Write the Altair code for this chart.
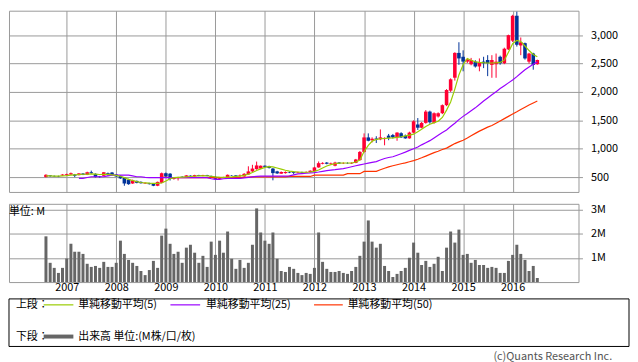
import altair as alt
import pandas as pd

# ---------------- data ----------------
start_month = "2006-08-01"   # first candle (monthly candles, Aug 2006 .. Jul 2016)

opens = [500,530,520,518,528,534,545,545,534,562,
         540,585,557,511,523,568,580,545,523,489,
         455,387,432,415,387,392,387,347,400,568,
         560,470,485,505,495,525,510,535,520,535,
         520,505,470,495,495,530,530,520,511,545,
         600,640,650,700,690,650,600,560,570,590,
         590,575,590,580,590,605,670,735,755,735,
         700,756,740,745,740,750,800,943,1199,1150,
         1180,1165,1170,1230,1240,1199,1273,1228,1182,1284,
         1427,1370,1455,1654,1455,1568,1625,1767,2023,2251,
         2688,2620,2535,2489,2535,2449,2535,2563,2477,2489,
         2620,2506,2750,2904,3342,2819,2860,2534,2677,2489]
highs = [550,535,528,525,550,560,580,555,570,570,
         595,614,565,520,590,580,590,555,530,495,
         470,455,440,425,405,400,395,420,580,580,
         570,500,505,515,535,530,540,540,540,540,
         525,515,500,505,545,535,535,545,570,690,
         716,773,705,705,700,660,610,600,600,600,
         605,595,595,600,620,680,775,760,765,755,
         770,765,760,760,760,820,960,1270,1270,1200,
         1220,1340,1200,1260,1260,1290,1290,1250,1300,1500,
         1540,1470,1680,1670,1640,1640,1780,2050,2240,2700,
         2876,2734,2590,2600,2560,2591,2620,2648,2648,2677,
         2640,2780,3010,3360,3415,2960,2870,2690,2690,2570]
lows = [495,505,505,500,520,528,540,500,528,535,
        535,560,495,490,515,525,525,505,470,347,
        365,380,390,385,380,370,340,340,390,495,
        440,455,440,490,490,510,505,515,515,515,
        495,455,465,485,490,520,515,505,505,540,
        590,630,640,670,650,443,555,555,560,570,
        550,570,570,575,585,600,665,725,725,725,
        690,730,730,735,730,745,790,930,1130,1110,
        1100,1150,1060,1150,1180,1140,1190,1175,1175,1270,
        1330,1360,1440,1440,1440,1550,1610,1750,2000,2200,
        2478,2364,2510,2470,2430,2364,2420,2279,2250,2250,
        2480,2490,2740,2880,2800,2648,2570,2500,2392,2480]
closes = [540,515,512,510,545,551,568,523,565,540,
          585,568,500,500,585,534,534,511,477,387,
          375,443,398,392,398,375,347,415,568,510,
          470,490,500,495,530,515,535,520,535,520,
          505,470,495,500,540,525,520,530,557,600,
          650,705,700,680,660,570,565,590,590,580,
          575,585,580,590,612,670,745,750,735,745,
          756,740,745,740,750,810,943,1199,1140,1175,
          1160,1200,1190,1190,1200,1284,1199,1182,1284,1483,
          1370,1455,1654,1466,1625,1625,1767,2035,2223,2688,
          2591,2535,2574,2563,2449,2520,2506,2506,2563,2534,
          2506,2762,3001,3342,2830,2875,2591,2677,2477,2563]
volume_m = [1.90,0.80,0.59,0.38,0.59,0.98,1.59,1.26,1.26,1.17,
            0.76,0.63,0.67,0.59,0.84,0.63,0.63,0.80,1.72,1.17,
            0.92,0.80,0.67,0.46,0.29,0.50,0.88,0.59,1.93,2.22,
            1.59,1.17,1.26,0.80,1.43,1.55,1.22,0.80,1.09,0.63,
            1.68,1.13,1.72,1.22,2.10,0.97,0.55,0.92,0.59,0.80,
            1.55,3.06,2.06,1.72,1.59,2.06,0.97,0.46,0.42,0.63,
            0.55,0.38,0.29,0.38,0.34,0.59,2.06,0.84,0.55,0.42,
            0.42,0.46,0.38,0.34,0.46,0.63,1.09,1.68,2.56,1.68,
            1.43,1.59,0.67,0.46,0.21,0.34,0.46,0.59,1.01,1.64,
            1.22,0.71,0.88,0.63,0.76,1.05,0.46,1.43,2.10,1.64,
            2.18,1.13,1.17,0.80,0.92,0.71,0.71,0.59,0.63,0.59,
            0.38,0.38,0.88,1.13,1.55,1.17,0.92,0.46,0.67,0.17]
ma5 = [520,520,518,518,522,526,535,540,545,550,
       552,556,553,546,550,548,540,530,515,490,
       460,440,420,405,398,392,388,388,395,430,
       470,490,495,500,505,510,515,520,522,522,
       515,505,498,495,500,505,512,518,530,552,
       580,615,645,670,685,680,660,640,620,605,
       595,590,585,585,590,600,625,660,695,720,
       735,745,748,748,748,765,800,950,1060,1130,
       1165,1175,1180,1185,1190,1200,1210,1225,1240,1256,
       1300,1341,1390,1430,1460,1483,1550,1680,1824,2050,
       2300,2480,2590,2560,2530,2520,2515,2510,2510,2515,
       2520,2560,2700,2850,2910,2890,2810,2730,2660,2620]
ma25 = [None,None,None,None,None,None,None,None,477,477,
        492,506,506,506,506,520,534,534,534,534,
        534,520,506,506,495,489,489,489,489,489,
        489,489,489,489,489,489,489,489,489,489,
        470,460,460,470,477,477,477,477,485,495,
        505,512,517,517,517,517,517,517,517,520,
        540,557,562,568,574,580,590,602,614,622,
        630,640,648,665,682,700,716,730,745,760,
        773,800,828,845,858,885,912,940,970,1000,
        1030,1068,1105,1142,1190,1238,1285,1330,1390,1450,
        1512,1570,1620,1670,1720,1780,1840,1895,1950,2005,
        2060,2110,2160,2210,2270,2330,2390,2440,2490,2530]
ma50 = [None,None,None,None,None,None,None,None,None,None,
        None,None,None,None,None,None,None,None,None,None,
        None,None,None,None,None,None,None,None,495,494,
        493,492,492,492,492,492,492,492,492,492,
        492,492,492,492,492,492,492,492,495,500,
        505,505,505,505,505,505,505,505,505,511,
        511,511,511,511,511,534,534,534,534,534,
        534,534,534,560,560,560,560,600,600,600,
        600,630,655,680,700,718,735,750,770,790,
        815,840,870,900,930,955,985,1010,1050,1090,
        1120,1150,1190,1230,1270,1310,1345,1380,1410,1450,
        1490,1530,1570,1610,1650,1690,1730,1770,1805,1840]
year_ticks = [2007, 2008, 2009, 2010, 2011, 2012, 2013, 2014, 2015, 2016]
price_ticks = [500, 1000, 1500, 2000, 2500, 3000]
volume_ticks = [1, 2, 3]

legend_labels = ["単純移動平均(5)", "単純移動平均(25)", "単純移動平均(50)"]
legend_colors = ["#99CC00", "#9900FF", "#FF3300"]

# ---------------- table ----------------
months = pd.date_range(start_month, periods=len(closes), freq="MS")
df = pd.DataFrame({
    "date": months, "open": opens, "high": highs, "low": lows, "close": closes,
    "vol": volume_m, "ma5": ma5, "ma25": ma25, "ma50": ma50,
})
df["dir"] = ["up" if c >= o else "down" for o, c in zip(opens, closes)]

RED, BLUE, GRID = "#FF0033", "#003399", "#999999"
FONT = "Noto Sans CJK JP"

xs = alt.Scale(domain=[alt.DateTime(year=2005, month=12, date=8),
                       alt.DateTime(year=2017, month=3, date=25)])
tick_dates = [alt.DateTime(year=y, month=1, date=1) for y in year_ticks]
ax_price_x = alt.Axis(values=tick_dates, grid=True, labels=False, ticks=False,
                      domain=False, title=None, gridColor=GRID, gridWidth=1)
X = alt.X("date:T", scale=xs, axis=ax_price_x)

ys = alt.Scale(domain=[238, 3432], nice=False, zero=False)
ax_price_y = alt.Axis(orient="right", values=price_ticks, format=",.0f", title=None,
                      grid=True, gridColor=GRID, gridWidth=1, domain=False,
                      tickColor=GRID, tickSize=4, labelPadding=8)
col = alt.Color("dir:N", scale=alt.Scale(domain=["up", "down"], range=[RED, BLUE]),
                legend=None)

base = alt.Chart(df)
wicks = base.mark_rule(strokeWidth=1).encode(
    x=X, y=alt.Y("low:Q", scale=ys, axis=ax_price_y), y2="high:Q", color=col)
bodies = base.mark_bar(size=3.6).encode(
    x=X, y=alt.Y("open:Q", scale=ys, axis=ax_price_y), y2="close:Q", color=col)
lines = []
for field, c in zip(["ma50", "ma25", "ma5"], legend_colors[::-1]):
    lines.append(base.mark_line(color=c, strokeWidth=1.2).encode(
        x=X, y=alt.Y(f"{field}:Q", scale=ys, axis=ax_price_y)))

price = alt.layer(wicks, bodies, *lines).properties(width=575, height=183)

# ---------------- volume ----------------
ax_vol_x = alt.Axis(values=tick_dates, format="%Y", grid=True, ticks=False,
                    domain=False, title=None, gridColor=GRID, gridWidth=1,
                    labelPadding=0, labelFontSize=11, labelColor="#000000",
                    labelFont=FONT)
ax_vol_y = alt.Axis(orient="right", values=volume_ticks, labelExpr="datum.value + 'M'",
                    title=None, grid=True, gridColor=GRID, gridWidth=1, domain=False,
                    tickColor=GRID, tickSize=4, labelPadding=8)
vol_bars = base.mark_bar(size=3, color="#666666").encode(
    x=alt.X("date:T", scale=xs, axis=ax_vol_x),
    y=alt.Y("vol:Q", scale=alt.Scale(domain=[0, 3.25], nice=False), axis=ax_vol_y))

one = alt.Chart(pd.DataFrame({"k": [0]}))
deco = [
    one.mark_text(align="left", baseline="middle", fontSize=11, font=FONT, color="#000").encode(
        x=alt.value(0), y=alt.value(8), text=alt.value("単位: M")),
    one.mark_rect(fill="white", stroke="#000000", strokeWidth=1).encode(
        x=alt.value(0), x2=alt.value(626), y=alt.value(96), y2=alt.value(144)),
    one.mark_text(align="left", baseline="middle", fontSize=11, font=FONT, color="#000").encode(
        x=alt.value(7), y=alt.value(102), text=alt.value("上段：")),
    one.mark_text(align="left", baseline="middle", fontSize=11, font=FONT, color="#000").encode(
        x=alt.value(7), y=alt.value(134), text=alt.value("下段：")),
    one.mark_rule(color="#666666", strokeWidth=4).encode(
        x=alt.value(35), x2=alt.value(65), y=alt.value(134)),
    one.mark_text(align="left", baseline="middle", fontSize=11, font=FONT, color="#000").encode(
        x=alt.value(70), y=alt.value(134), text=alt.value("出来高 単位:(M株/口/枚)")),
    one.mark_text(align="right", baseline="middle", fontSize=11, font=FONT, color="#555555").encode(
        x=alt.value(609), y=alt.value(155), text=alt.value("(c)Quants Research Inc.")),
]
leg_x = [(35, 65, 70), (163, 193, 199), (308, 337, 342)]
for (x1, x2, xt), lab, c in zip(leg_x, legend_labels, legend_colors):
    deco.append(one.mark_rule(color=c, strokeWidth=1.2).encode(
        x=alt.value(x1), x2=alt.value(x2), y=alt.value(102)))
    deco.append(one.mark_text(align="left", baseline="middle", fontSize=11, font=FONT,
                              color="#000").encode(
        x=alt.value(xt), y=alt.value(102), text=alt.value(lab)))

volume = alt.layer(vol_bars, *deco).properties(width=575, height=79)

chart = alt.vconcat(price, volume, spacing=10).configure_view(
    stroke=GRID, strokeWidth=1
).configure_axis(
    labelFont=FONT, labelFontSize=11, labelColor="#000000"
).properties(background="white", padding=0)

chart.save("out.html", embed_options={"renderer": "svg", "actions": False})
